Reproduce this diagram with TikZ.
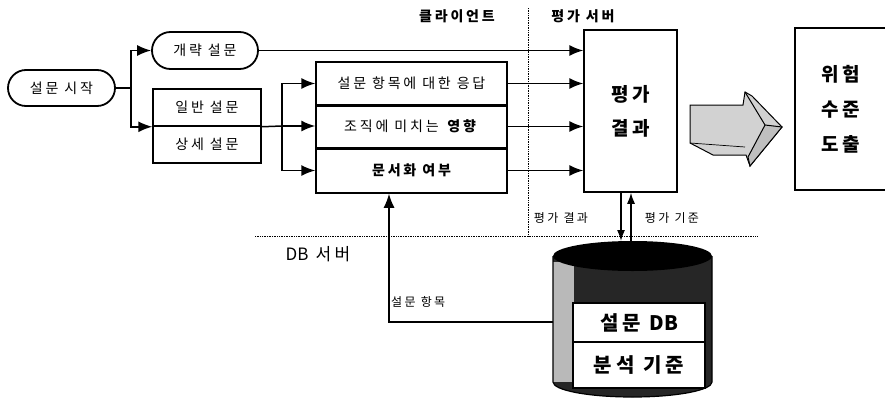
\documentclass[tikz,border=0pt]{standalone}
\usepackage{fontspec}
\setmainfont{Noto Sans CJK KR}[LetterSpace=20]
\usetikzlibrary{arrows.meta,shapes.misc}

\newcommand{\dbtext}{{\addfontfeature{LetterSpace=0}DB}}

\tikzset{
  box/.style={draw, line width=1.5pt, inner sep=0pt, font=\fontsize{14}{16}\selectfont},
  term/.style={box, rounded rectangle, line width=1.8pt},
  flow/.style={-{Latex[length=14pt,width=11pt]}, line width=1.5pt},
  flowsmall/.style={-{Latex[length=11pt,width=8pt]}, line width=1.4pt},
  zone/.style={densely dotted, line width=0.7pt},
  note/.style={font=\fontsize{12}{14}\selectfont, inner sep=1pt},
  head/.style={font=\bfseries\fontsize{14}{16}\selectfont, inner sep=1pt},
  big/.style={font=\bfseries\fontsize{19}{34}\selectfont, align=center},
}

\begin{document}
\begin{tikzpicture}[x=1pt,y=-1pt]
\useasboundingbox (0,0) rectangle (885,399);

% zones
\draw[zone] (528,8) -- (528,237);
\draw[zone] (255,236) -- (757,236);
\node[head] (client) at (457,16) {클라이언트};
\node[head] (evalsrv) at (583,16) {평가 서버};
\node[head, font=\fontsize{17}{19}\selectfont] (dbsrv) at (318,254) {\dbtext{} 서버};

% survey start
\node[term, minimum width=107pt, minimum height=36pt] (start) at (61.5,88) {설문 시작};
\node[term, minimum width=106pt, minimum height=37pt] (summary) at (205,50.5) {개략 설문};
\node[box, minimum width=108pt, minimum height=37pt] (general) at (207,107.5) {일반 설문};
\node[box, minimum width=108pt, minimum height=37pt] (detail) at (207,144.5) {상세 설문};

\coordinate (fork) at (131,88);
\draw[line width=1.5pt] (start.east) -- (fork);
\draw[flow] (fork) |- (summary.west);
\draw[flow] (fork) |- (general.south west);

% client items
\node[box, minimum width=191pt, minimum height=43pt] (resp) at (411.5,83.5) {설문 항목에 대한 응답};
\node[box, minimum width=191pt, minimum height=43pt] (effect) at (411.5,126.5) {조직에 미치는 \textbf{영향}};
\node[box, minimum width=191pt, minimum height=45pt, font=\bfseries\fontsize{14}{16}\selectfont] (doc) at (411.5,170.5) {문서화 여부};
\draw[line width=3pt] (resp.south west) -- (resp.south east);
\draw[line width=3pt] (effect.south west) -- (effect.south east);

\coordinate (fork2) at (282,126);
\draw[line width=1.5pt] (general.south east) -- (fork2);
\draw[flow] (fork2) |- (resp.west);
\draw[flow] (fork2) -- (fork2 -| effect.west);
\draw[flow] (fork2) |- (doc.west);

% evaluation server
\node[box, big, minimum width=93pt, minimum height=162pt] (eval) at (630.5,111) {평가\\결과};
\draw[flow] (summary.east) -- (summary.east -| eval.west);
\draw[flow] (resp.east) -- (resp.east -| eval.west);
\draw[flow] (effect.east) -- (effect.east -| eval.west);
\draw[flow] (doc.east) -- (doc.east -| eval.west);

% 3D arrow
\draw[line width=1pt, fill=gray!35] (690,105) -- (743,105) -- (745,92) -- (752,96) -- (782,127)
  -- (750,166) -- (746,155) -- (713,155) -- (690,143) -- cycle;
\draw[line width=1pt, fill=gray!50] (765,125) -- (782,127) -- (750,166) -- (748,157) -- cycle;
\draw[line width=1pt] (745,92) -- (765,125);
\draw[line width=0.7pt] (690,143) -- (745,147);

% risk level
\node[box, big, font=\bfseries\fontsize{19}{35}\selectfont, minimum width=92pt, minimum height=162pt] (risk) at (841,109) {위험\\수준\\도출};

% DB cylinder
\coordinate (dbtop) at (632.5,241);
\coordinate (dbleft) at (553,322);
\fill[black!85] (553,256) -- (553,382) arc[start angle=180, end angle=360, x radius=79.5pt, y radius=15pt] -- (712,256) -- cycle;
\fill[gray!55] (553,262) rectangle (574,382);
\draw[line width=1.2pt] (553,256) -- (553,382) arc[start angle=180, end angle=360, x radius=79.5pt, y radius=15pt] -- (712,256);
\fill[black] (632.5,256) ellipse[x radius=79.5pt, y radius=15pt];
\node[box, fill=white, minimum width=132pt, minimum height=39pt, font=\bfseries\fontsize{20}{22}\selectfont] (qdb) at (639,322.5) {설문 \dbtext};
\node[box, fill=white, minimum width=132pt, minimum height=46pt, font=\bfseries\fontsize{20}{22}\selectfont] (crit) at (639,365) {분석 기준};

\draw[flowsmall] ([xshift=-9.5pt]eval.south) -- ([xshift=-9.5pt]eval.south |- dbtop);
\draw[flowsmall] ([xshift=0.5pt]eval.south |- dbtop) -- ([xshift=0.5pt]eval.south);
\node[note] (reslbl) at (561,218) {평가 결과};
\node[note] (critlbl) at (672,218) {평가 기준};

\draw[flow] (dbleft) -| ([xshift=-22.5pt]doc.south);
\node[note, anchor=west] (itemlbl) at (390,302) {설문 항목};
\end{tikzpicture}
\end{document}
